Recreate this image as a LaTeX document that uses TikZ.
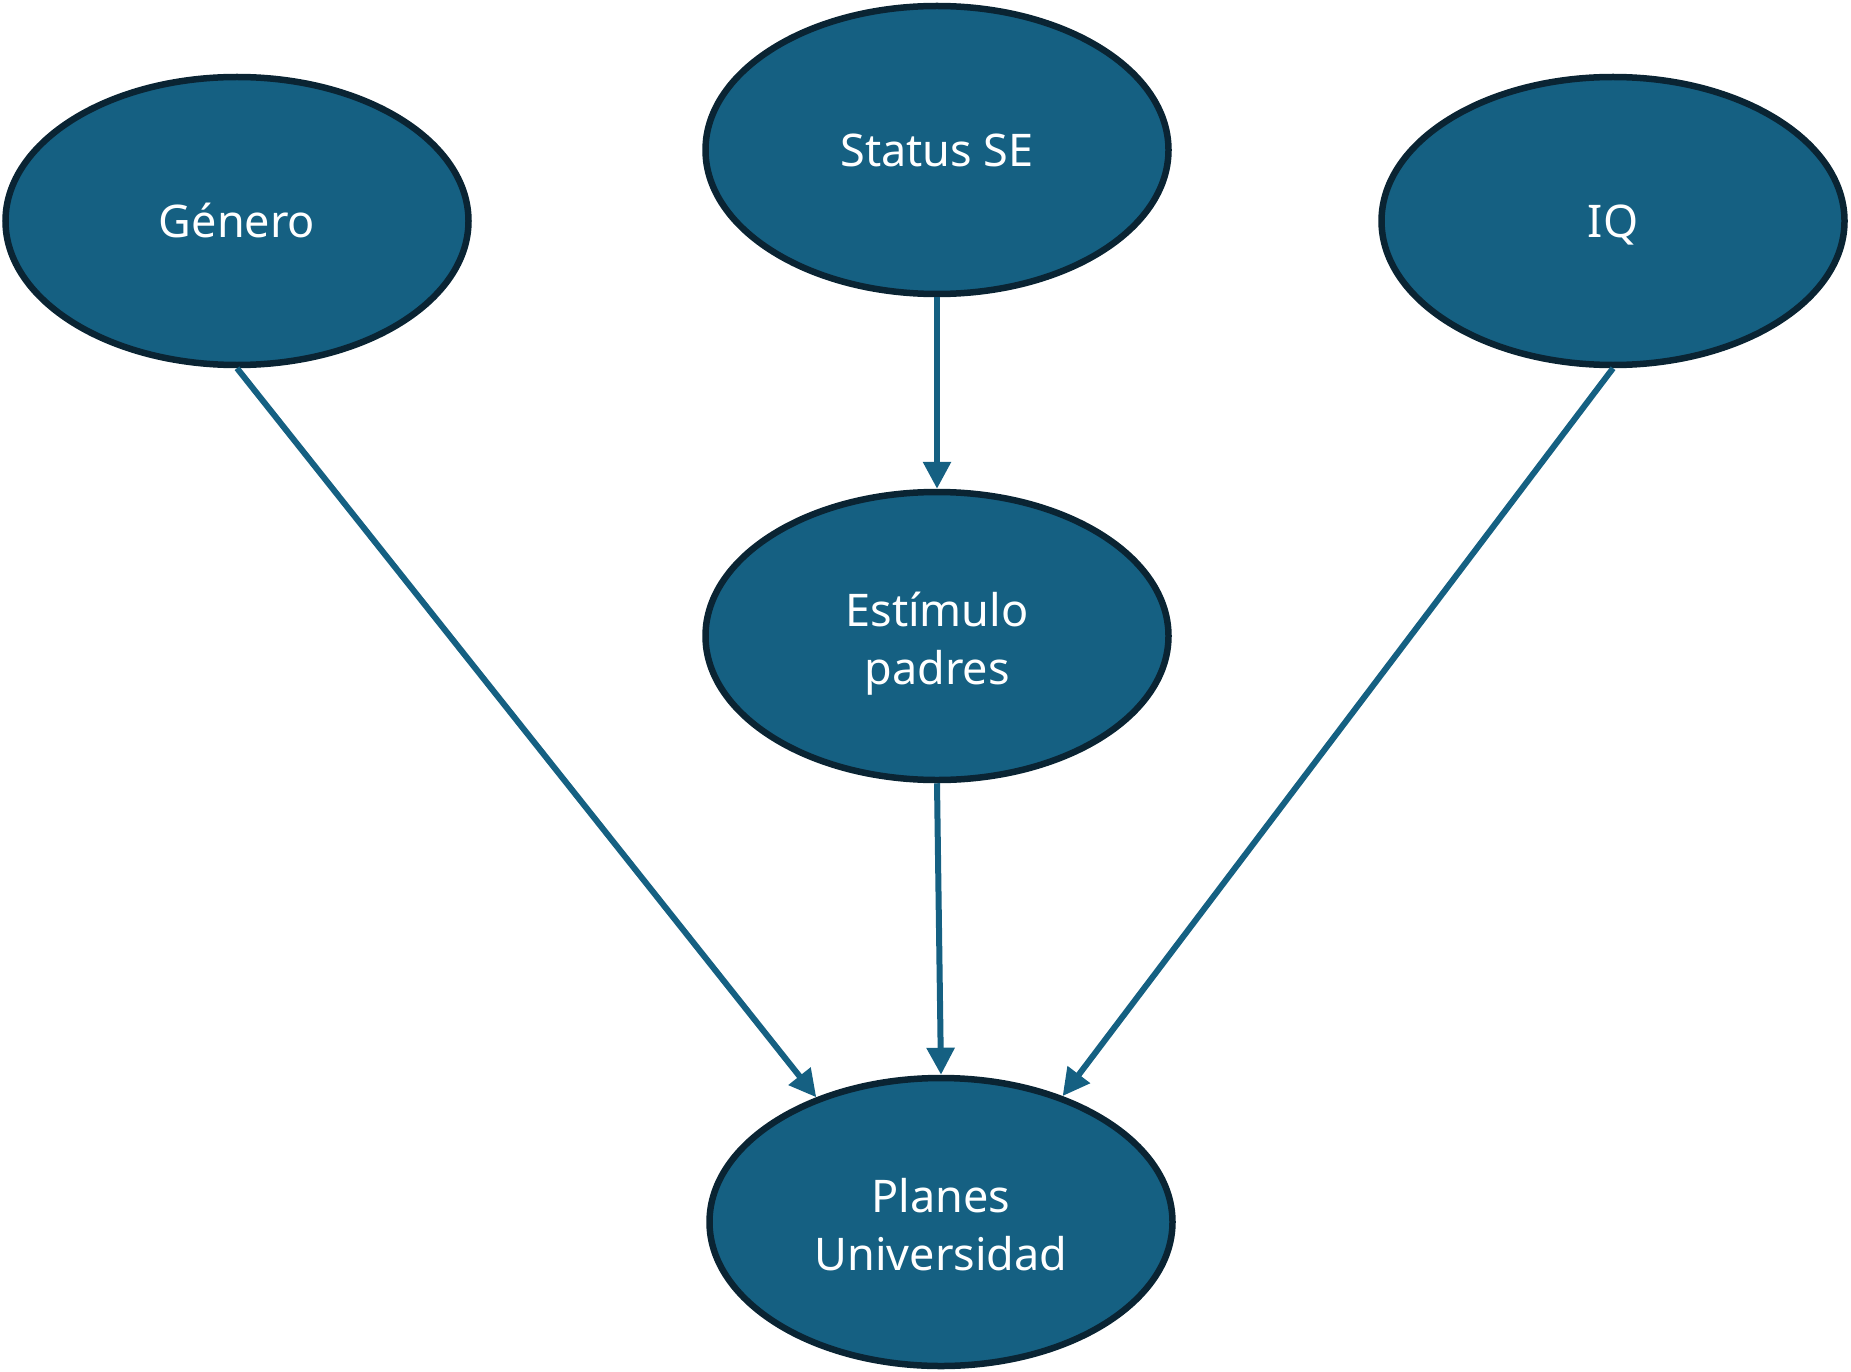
\documentclass[tikz,border=0pt]{standalone}
\usepackage{fontspec}
\setmainfont{Noto Sans}
\usetikzlibrary{shapes.geometric,arrows.meta}
\definecolor{nodefill}{HTML}{156082}
\definecolor{nodeborder}{HTML}{0A2433}
\definecolor{arrowcol}{HTML}{156082}
\newcommand{\twolines}[2]{\raisebox{-14.5pt}[0pt][0pt]{\begin{tabular}{@{}c@{}}#1\\#2\end{tabular}}}
\tikzset{
  varnode/.style={ellipse, draw=nodeborder, line width=6.5pt, fill=nodefill,
    minimum width=463pt, minimum height=288pt, inner sep=0pt,
    text=white, align=center, font=\fontsize{45}{58}\selectfont},
  oneline/.style={text height=34pt, text depth=0pt},
  link/.style={draw=arrowcol, line width=6pt,
    -{Triangle[length=27pt,width=27pt]}}
}
\begin{document}
\begin{tikzpicture}[x=1pt,y=-1pt]
\useasboundingbox (0,0) rectangle (1851,1372);
\node[varnode,oneline] (gen) at (237,221) {Género};
\node[varnode,oneline] (ses) at (937,150) {Status SE};
\node[varnode,oneline] (iq) at (1613,221) {IQ};
\node[varnode] (est) at (937,636) {\twolines{Estímulo}{padres}};
\node[varnode] (plan) at (941,1222) {\twolines{Planes}{Universidad}};
\draw[link] (ses.south) -- (est.north);
\draw[link] (est.south) -- (plan.north);
\draw[link] (gen.south) -- (plan.135);
\draw[link] (iq.south) -- (plan.46);
\end{tikzpicture}
\end{document}
